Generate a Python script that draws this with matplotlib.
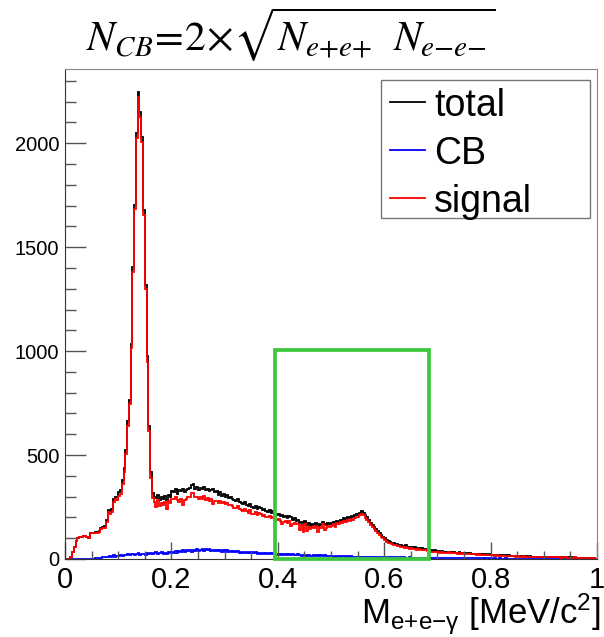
import numpy as np
import matplotlib
matplotlib.use("Agg")
import matplotlib.pyplot as plt
from matplotlib.patches import Rectangle
from matplotlib.lines import Line2D

plt.rcParams['font.family'] = ['Liberation Sans', 'DejaVu Sans']
plt.rcParams['mathtext.fontset'] = 'custom'
plt.rcParams['mathtext.rm'] = 'Liberation Sans'
plt.rcParams['mathtext.it'] = 'Liberation Sans:italic'

# ---- data: 300 bins over 0..1 ----
n_bins = 300
x_min, x_max = 0.0, 1.0

total = [
    0, 0, 0, 10, 35, 60, 85, 100, 105, 108,
    110, 112, 108, 102, 125, 126, 125, 128, 132, 135,
    150, 155, 160, 190, 235, 230, 240, 290, 300, 300,
    320, 330, 380, 440, 525, 662, 766, 1035, 1405, 1703,
    2050, 2245, 2150, 2030, 1680, 1320, 975, 640, 420, 318,
    300, 295, 310, 285, 300, 290, 305, 285, 310, 300,
    325, 320, 335, 315, 330, 325, 335, 320, 330, 335,
    340, 355, 360, 335, 345, 330, 340, 335, 345, 330,
    335, 325, 330, 335, 320, 325, 310, 320, 305, 315,
    300, 310, 295, 300, 290, 285, 280, 290, 275, 270,
    265, 275, 260, 255, 265, 250, 245, 255, 240, 250,
    245, 235, 240, 230, 225, 235, 220, 230, 215, 210,
    215, 205, 210, 200, 205, 195, 205, 200, 190, 195,
    185, 190, 175, 180, 170, 185, 165, 175, 160, 170,
    165, 175, 160, 170, 165, 180, 170, 165, 175, 170,
    175, 180, 170, 185, 180, 190, 185, 195, 190, 200,
    195, 205, 200, 210, 215, 212, 222, 229, 220, 210,
    200, 188, 175, 165, 155, 145, 135, 125, 115, 108,
    100, 92, 88, 82, 78, 75, 74, 70, 68, 66,
    64, 62, 65, 60, 58, 60, 55, 56, 52, 54,
    50, 52, 48, 50, 45, 46, 42, 40, 42, 38,
    40, 37, 38, 35, 36, 34, 36, 33, 32, 34,
    31, 30, 32, 29, 30, 28, 29, 27, 28, 26,
    26, 25, 24, 26, 23, 24, 22, 23, 21, 22,
    20, 21, 19, 20, 18, 19, 17, 18, 17, 16,
    17, 16, 15, 16, 14, 15, 14, 13, 14, 13,
    13, 12, 13, 12, 11, 12, 11, 12, 10, 11,
    11, 10, 11, 10, 9, 10, 9, 10, 9, 8,
    9, 8, 9, 8, 7, 8, 7, 8, 6, 7,
    6, 7, 5, 6, 5, 4, 5, 3, 4, 2,
]

cb = [
    0, 0, 0, 0, 0, 0, 0, 0, 0, 0,
    0, 0, 0, 0, 0, 0, 2, 3, 5, 4,
    6, 8, 10, 12, 8, 14, 12, 17, 11, 16,
    15, 19, 14, 20, 17, 24, 18, 22, 26, 19,
    23, 27, 20, 26, 24, 19, 28, 24, 30, 22,
    27, 32, 24, 29, 34, 26, 31, 25, 35, 28,
    34, 29, 37, 31, 40, 33, 42, 34, 45, 37,
    41, 35, 44, 38, 47, 39, 44, 50, 40, 47,
    42, 48, 39, 45, 38, 45, 37, 44, 36, 42,
    36, 42, 34, 40, 33, 39, 32, 38, 31, 36,
    30, 36, 29, 34, 28, 33, 27, 32, 26, 31,
    25, 30, 24, 29, 23, 28, 22, 27, 25, 21,
    25, 20, 24, 19, 25, 18, 23, 17, 22, 19,
    17, 22, 18, 16, 21, 17, 14, 20, 16, 14,
    18, 15, 17, 13, 17, 13, 18, 14, 13, 16,
    14, 12, 15, 12, 14, 11, 13, 14, 11, 13,
    10, 13, 12, 10, 12, 9, 12, 11, 9, 11,
    10, 8, 11, 10, 8, 10, 7, 9, 10, 7,
    9, 7, 9, 6, 8, 9, 6, 8, 7, 8,
    6, 8, 5, 7, 8, 5, 7, 6, 7, 5,
    6, 7, 4, 6, 7, 4, 6, 5, 6, 4,
    5, 6, 4, 4, 5, 6, 3, 5, 4, 5,
    4, 5, 3, 4, 3, 4, 5, 3, 4, 3,
    4, 3, 3, 4, 3, 3, 2, 3, 3, 2,
    3, 2, 3, 2, 2, 3, 2, 2, 3, 2,
    2, 2, 1, 2, 2, 1, 2, 2, 1, 2,
    1, 2, 1, 1, 2, 1, 1, 2, 1, 1,
    1, 1, 2, 1, 1, 1, 0, 1, 1, 1,
    1, 0, 1, 1, 0, 1, 1, 0, 1, 0,
    1, 0, 0, 1, 0, 1, 0, 0, 1, 0,
]

signal = [
    0, 0, 0, 10, 35, 60, 85, 100, 105, 108,
    110, 112, 108, 102, 125, 126, 123, 125, 127, 131,
    144, 147, 150, 178, 225, 216, 228, 275, 287, 284,
    305, 312, 363, 420, 507, 640, 747, 1014, 1381, 1683,
    2027, 2220, 2128, 2004, 1656, 1299, 948, 615, 392, 294,
    273, 250, 284, 256, 268, 262, 274, 240, 277, 270,
    291, 289, 299, 282, 272, 290, 258, 284, 288, 297,
    299, 318, 317, 296, 300, 290, 296, 287, 303, 284,
    292, 278, 289, 265, 280, 281, 271, 277, 267, 273,
    263, 269, 259, 261, 255, 247, 246, 253, 242, 235,
    233, 240, 229, 222, 235, 218, 216, 224, 212, 220,
    218, 206, 214, 202, 200, 208, 196, 204, 190, 187,
    191, 183, 170, 179, 181, 175, 183, 160, 169, 175,
    167, 169, 140, 163, 130, 167, 135, 156, 143, 155,
    147, 159, 130, 155, 149, 166, 140, 150, 161, 154,
    161, 167, 155, 172, 166, 178, 172, 181, 178, 187,
    184, 192, 188, 199, 203, 202, 210, 218, 210, 199,
    190, 179, 164, 155, 146, 135, 127, 116, 105, 100,
    91, 84, 79, 75, 70, 66, 67, 62, 61, 58,
    57, 54, 59, 53, 50, 54, 48, 50, 45, 48,
    44, 45, 43, 44, 38, 41, 36, 35, 36, 33,
    35, 31, 33, 31, 31, 28, 32, 28, 28, 29,
    27, 25, 28, 25, 27, 24, 24, 24, 24, 23,
    22, 22, 21, 22, 20, 21, 20, 20, 18, 20,
    17, 19, 16, 18, 16, 16, 15, 16, 14, 14,
    15, 14, 14, 14, 12, 14, 12, 11, 13, 11,
    12, 10, 12, 11, 9, 11, 10, 10, 9, 10,
    10, 9, 9, 9, 8, 9, 9, 9, 8, 7,
    8, 8, 8, 7, 7, 7, 6, 8, 5, 7,
    5, 7, 5, 5, 5, 3, 5, 3, 3, 2,
]

legend_labels = ["total", "CB", "signal"]
line_colors = ["black", "#0000ff", "#ff0000"]
box_x = [0.395, 0.685]   # selection window
box_y = [0, 1005]

W, H = 604, 637


def fx(px):
    return px / W


def fy(py):
    return 1 - py / H


edges = np.linspace(x_min, x_max, n_bins + 1)

fig = plt.figure(figsize=(W / 100, H / 100), dpi=100)
ax = fig.add_axes([fx(65), fy(559), 532 / W, 490 / H])

for vals, col in zip([total, cb, signal], line_colors):
    ax.stairs(vals, edges, color=col, lw=1.3)

ax.add_patch(Rectangle((box_x[0], box_y[0]), box_x[1] - box_x[0], box_y[1] - box_y[0],
                       fill=False, edgecolor="#3cc83c", lw=2.7, clip_on=False, zorder=5))

ax.set_xlim(x_min, x_max)
ax.set_ylim(0, 2357)

# ROOT-ish ticks
ax.set_xticks([0, 0.2, 0.4, 0.6, 0.8, 1.0])
ax.set_xticklabels(["0", "0.2", "0.4", "0.6", "0.8", "1"])
ax.set_xticks(np.arange(0, 1.001, 0.05), minor=True)
ax.set_yticks([0, 500, 1000, 1500, 2000])
ax.set_yticks(np.arange(0, 2301, 100), minor=True)
ax.tick_params(axis="both", which="both", direction="in", color="#555555", width=1)
ax.tick_params(axis="x", which="major", length=12, labelsize=21, pad=5)
ax.tick_params(axis="x", which="minor", length=6)
ax.tick_params(axis="y", which="major", length=15, labelsize=14.5, pad=4)
ax.tick_params(axis="y", which="minor", length=8)

for side in ["left", "bottom"]:
    ax.spines[side].set_color("#333333")
for side in ["top", "right"]:
    ax.spines[side].set_color("#888888")

# x axis title, right-aligned under the axis
fig.text(fx(601), fy(624), r"M$_{\mathrm{e{+}e{-}γ}}$ [MeV/c$^{2}$]", fontsize=25,
         ha="right", va="baseline")

# ROOT style legend box
fig.patches.append(Rectangle((fx(381), fy(218)), fx(590) - fx(381), fy(80) - fy(218),
                             transform=fig.transFigure, fill=True, facecolor="white",
                             edgecolor="#777777", lw=1.0, zorder=6))
for i, (lab, col) in enumerate(zip(legend_labels, line_colors)):
    row_y = fy(102 + 48 * i)
    fig.add_artist(Line2D([fx(390), fx(425)], [row_y, row_y], color=col, lw=1.3,
                          transform=fig.transFigure, zorder=7))
    fig.text(fx(434), row_y, lab, fontsize=27, ha="left", va="center_baseline", zorder=7)

fig.text(0.482, 0.945, r"$N_{CB}\!=\!2\!\times\!\sqrt{N_{e{+}e{+}}\ \ N_{e{-}e{-}}}$",
         fontsize=30, ha="center", va="center", math_fontfamily="stix")

fig.savefig("out.png", dpi=100)
